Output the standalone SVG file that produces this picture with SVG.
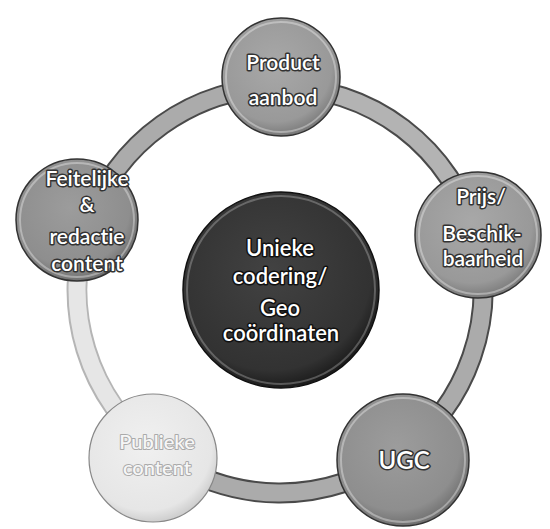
<svg xmlns="http://www.w3.org/2000/svg" width="550" height="529" viewBox="0 0 550 529">
  <defs>
    <radialGradient id="gMid" cx="45%" cy="40%" r="60%">
      <stop offset="0" stop-color="#a8a8a8"/>
      <stop offset="0.8" stop-color="#999"/>
      <stop offset="1" stop-color="#7a7a7a"/>
    </radialGradient>
    <radialGradient id="gMid2" cx="45%" cy="40%" r="60%">
      <stop offset="0" stop-color="#9c9c9c"/>
      <stop offset="0.8" stop-color="#8e8e8e"/>
      <stop offset="1" stop-color="#707070"/>
    </radialGradient>
    <radialGradient id="gLight" cx="45%" cy="40%" r="60%">
      <stop offset="0" stop-color="#f0f0f0"/>
      <stop offset="0.85" stop-color="#e6e6e6"/>
      <stop offset="1" stop-color="#cfcfcf"/>
    </radialGradient>
    <radialGradient id="gDark" cx="45%" cy="40%" r="60%">
      <stop offset="0" stop-color="#424242"/>
      <stop offset="0.85" stop-color="#323232"/>
      <stop offset="1" stop-color="#1c1c1c"/>
    </radialGradient>
  </defs>
  <style>
    .ringO { fill: none; stroke: #4a4a4a; stroke-width: 21; }
    .ringI { fill: none; stroke: #ababab; stroke-width: 17; }
    .ringOL { fill: none; stroke: #b5b5b5; stroke-width: 21; }
    .ringIL { fill: none; stroke: #e6e6e6; stroke-width: 17; }
    .node { stroke: #333; stroke-width: 1.5; }
    .nodeL { stroke: #888; stroke-width: 1.2; }
    .hl { fill: none; stroke: #fff; stroke-opacity: 0.35; stroke-width: 2; }
    text { font-family: Lato, "Open Sans", "Liberation Sans", sans-serif; font-weight: 600; font-variant-ligatures: none; text-anchor: middle; fill: #fff; stroke: #333; stroke-width: 3; paint-order: stroke; stroke-linejoin: round; }
    .t { font-size: 21px; }
    .tl { font-size: 20px; fill: #f6f6f6; stroke: #aaa; stroke-width: 2; }
    .tu { font-size: 24px; }
    .tc { font-size: 22px; stroke: #111; }
  </style>
  <g id="connectors">
    <path class="ringOL" d="M157.8,452.1 A203,203 0 0 1 88.1,223.9"/>
    <path class="ringIL" d="M157.8,452.1 A203,203 0 0 1 88.1,223.9"/>
    <path class="ringO" d="M88.1,223.9 A203,203 0 0 1 280,87"/>
    <path class="ringI" d="M88.1,223.9 A203,203 0 0 1 280,87"/>
    <path class="ringO" d="M280,87 A203,203 0 0 1 475.5,235.4"/>
    <path class="ringI" d="M280,87 A203,203 0 0 1 475.5,235.4" style="stroke:#b3b3b3"/>
    <path class="ringO" d="M475.5,235.4 A203,203 0 0 1 399.3,454.2"/>
    <path class="ringI" d="M475.5,235.4 A203,203 0 0 1 399.3,454.2"/>
    <path class="ringO" d="M399.3,454.2 A203,203 0 0 1 157.8,452.1"/>
    <path class="ringI" d="M399.3,454.2 A203,203 0 0 1 157.8,452.1"/>
  </g>
  <g id="product">
    <circle class="node" cx="281" cy="77" r="59" fill="url(#gMid)"/>
    <circle class="hl" cx="281" cy="77" r="55"/>
    <text class="t" x="283" y="70">Product</text>
    <text class="t" x="283" y="105">aanbod</text>
  </g>
  <g id="feitelijke">
    <circle class="node" cx="77" cy="220" r="61" fill="url(#gMid2)"/>
    <circle class="hl" cx="77" cy="220" r="57"/>
    <text class="t" x="87" y="186">Feitelijke</text>
    <text class="t" x="87" y="212">&amp;</text>
    <text class="t" x="87" y="244">redactie</text>
    <text class="t" x="87" y="271">content</text>
  </g>
  <g id="prijs">
    <circle class="node" cx="478" cy="235" r="63" fill="url(#gMid)"/>
    <circle class="hl" cx="478" cy="235" r="59"/>
    <text class="t" x="481" y="204">Prijs/</text>
    <text class="t" x="482" y="241">Beschik-</text>
    <text class="t" x="483" y="266">baarheid</text>
  </g>
  <g id="ugc">
    <circle class="node" cx="403" cy="460" r="66" fill="url(#gMid2)"/>
    <circle class="hl" cx="403" cy="460" r="62"/>
    <text class="tu" x="404" y="469">UGC</text>
  </g>
  <g id="publieke">
    <circle class="nodeL" cx="153" cy="458" r="64" fill="url(#gLight)"/>
    <text class="tl" x="157" y="449">Publieke</text>
    <text class="tl" x="157" y="475">content</text>
  </g>
  <g id="center">
    <circle class="node" cx="281" cy="290" r="98" fill="url(#gDark)" style="stroke:#111"/>
    <circle class="hl" cx="281" cy="290" r="94" style="stroke-opacity:0.25"/>
    <text class="tc" x="280" y="256">Unieke</text>
    <text class="tc" x="280" y="284">codering/</text>
    <text class="tc" x="280" y="316">Geo</text>
    <text class="tc" x="281" y="341">coördinaten</text>
  </g>
</svg>
